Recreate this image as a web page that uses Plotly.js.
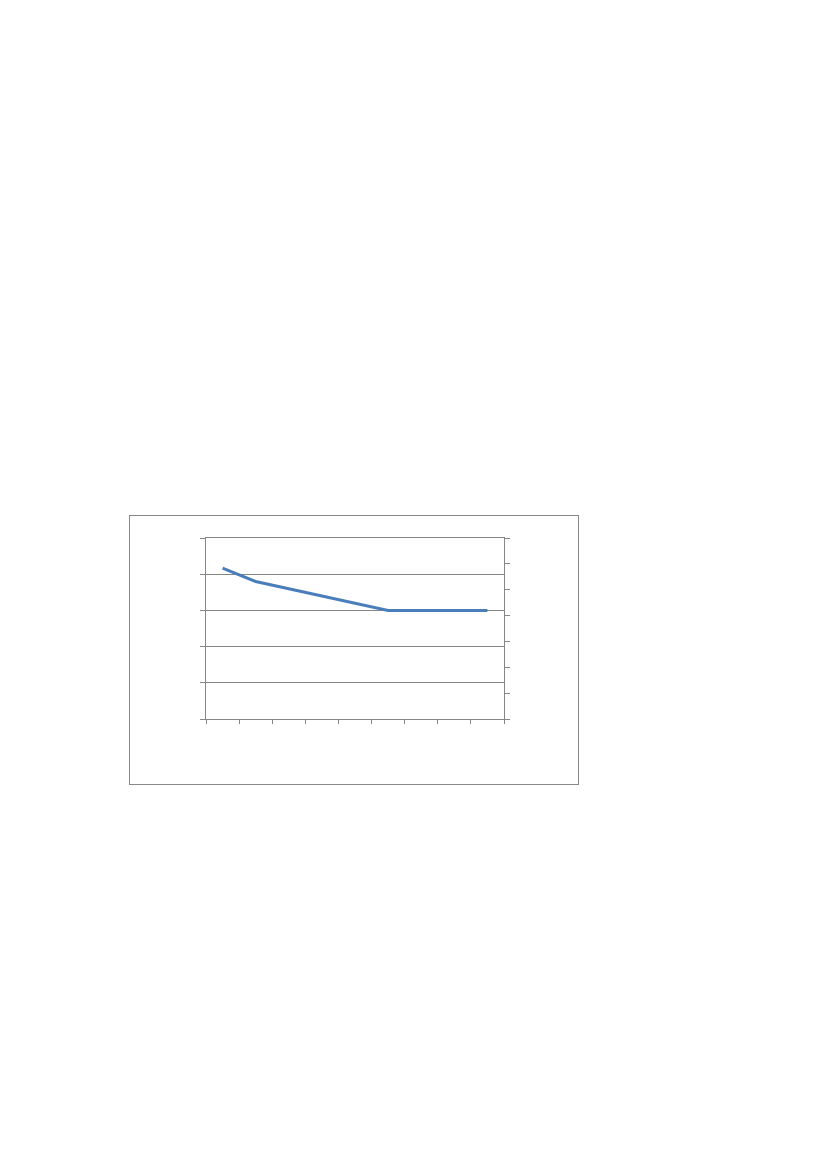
<!DOCTYPE html>
<html>
<head>
<meta charset="utf-8">
<script src="https://cdn.plot.ly/plotly-3.0.1.min.js"></script>
<style>
  body { margin: 0; background: #fff; }
  #page { position: relative; width: 827px; height: 1169px; }
  #graph {
    position: absolute; left: 129px; top: 515px;
    width: 448px; height: 268px;
    border: 1px solid #888;
  }
</style>
</head>
<body>
<div id="page"><div id="graph"></div></div>
<script>
// 9 unlabelled categories, one series
var categories = ['1', '2', '3', '4', '5', '6', '7', '8', '9'];
var values = [4.17, 3.8, 3.6, 3.4, 3.2, 3.0, 3.0, 3.0, 3.0];
// right axis has 7 divisions, left 5
var leftRange = [0, 5];
var rightRange = [0, 7];

var axisGray = '#868686';

var plot_data = [
    {
        type: 'scatter',
        mode: 'lines',
        x: categories,
        y: values,
        line: { color: '#4a7ebb', width: 3 },
        hoverinfo: 'none',
        showlegend: false
    },
    {
        // empty trace so the right axis is drawn
        type: 'scatter',
        mode: 'lines',
        x: categories,
        y: [null, null, null, null, null, null, null, null, null],
        yaxis: 'y2',
        showlegend: false,
        hoverinfo: 'none'
    }
];

var layout = {
    width: 448,
    height: 268,
    paper_bgcolor: '#fff',
    plot_bgcolor: '#fff',
    showlegend: false,
    margin: { l: 76, r: 74, t: 22, b: 65 },
    xaxis: {
        type: 'category',
        range: [-0.5, 8.5],
        tickson: 'boundaries',
        ticks: 'outside',
        ticklen: 4,
        tickcolor: axisGray,
        showline: true,
        mirror: true,  // top edge = the gridline at 5
        linecolor: axisGray,
        linewidth: 1,
        showgrid: false,
        showticklabels: false,
        zeroline: false
    },
    yaxis: {
        range: leftRange,
        dtick: 1,
        ticks: 'outside',
        ticklen: 5,
        tickcolor: axisGray,
        showline: true,
        linecolor: axisGray,
        showgrid: true,
        gridcolor: axisGray,
        gridwidth: 1,
        showticklabels: false,
        zeroline: false
    },
    yaxis2: {
        overlaying: 'y',
        side: 'right',
        range: rightRange,
        dtick: 1,
        ticks: 'outside',
        ticklen: 5,
        tickcolor: axisGray,
        showline: true,
        linecolor: axisGray,
        showgrid: false,
        showticklabels: false,
        zeroline: false
    }
};

Plotly.newPlot('graph', plot_data, layout, { staticPlot: true });
</script>
</body>
</html>
